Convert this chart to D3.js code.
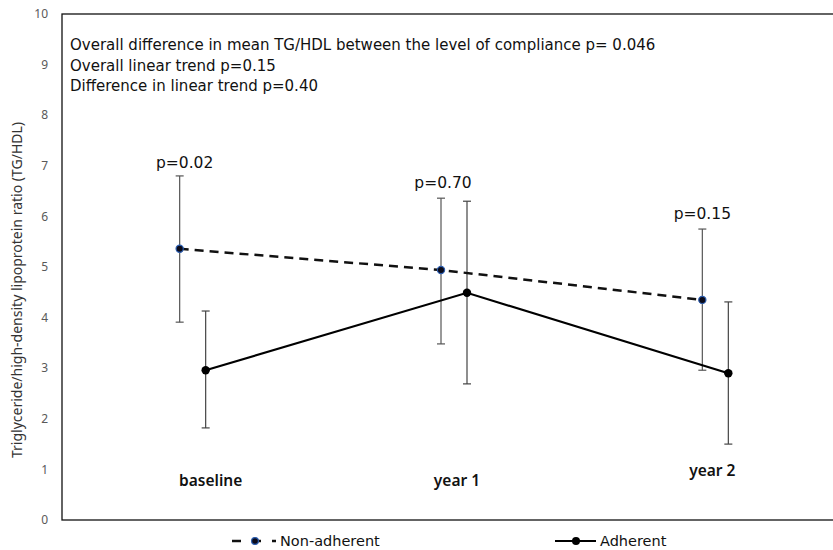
<!DOCTYPE html>
<html>
<head>
<meta charset="utf-8">
<script src="https://cdn.jsdelivr.net/npm/d3@7"></script>
<style>
  body { margin: 0; background: #fff; }
  text { font-family: "Noto Sans", "Open Sans", sans-serif; }
  .dv { font-family: "DejaVu Sans", sans-serif; }
</style>
</head>
<body>
<div id="vis-holder"></div>
<script>
// data
const timepoints = ["baseline", "year 1", "year 2"];
const nonAdherentMean = [5.36, 4.94, 4.35];
const nonAdherentHi = [6.80, 6.36, 5.75];
const nonAdherentLo = [3.91, 3.48, 2.96];
const adherentMean = [2.96, 4.49, 2.90];
const adherentHi = [4.13, 6.30, 4.31];
const adherentLo = [1.82, 2.69, 1.50];
const pLabels = ["p=0.02", "p=0.70", "p=0.15"];
const pLabelY = [6.95, 6.56, 5.95];
const catLabelY = [0.77, 0.77, 0.98];
const notes = [
  "Overall difference in mean TG/HDL between the level of compliance p= 0.046",
  "Overall linear trend p=0.15",
  "Difference in linear trend p=0.40"
];
const yTicks = [0, 1, 2, 3, 4, 5, 6, 7, 8, 9, 10];

const w = 833, h = 550;
const svg = d3.select("#vis-holder").append("svg")
  .attr("width", w).attr("height", h);

let x = d3.scaleBand().domain(timepoints).range([62, 846]);
let y = d3.scaleLinear().domain([0, 10]).range([520, 14]);
const off = 13;
const cx = (d, i) => x(timepoints[i]) + x.bandwidth() / 2;

// plot box
svg.append("rect")
  .attr("x", 62).attr("y", y(10))
  .attr("width", 846 - 62).attr("height", y(0) - y(10))
  .attr("fill", "none").attr("stroke", "#111").attr("stroke-width", 1.3);

// y tick labels
svg.selectAll(".ytick")
  .data(yTicks)
  .enter()
  .append("text")
  .attr("x", 48)
  .attr("y", d => y(d))
  .attr("dy", "0.35em")
  .attr("text-anchor", "end")
  .attr("font-size", 12)
  .attr("fill", "#595959")
  .text(d => d);

// y axis title
svg.append("text")
  .attr("transform", "translate(22," + 290 + ") rotate(-90)")
  .attr("text-anchor", "middle")
  .attr("font-size", 14)
  .attr("fill", "#333")
  .text("Triglyceride/high-density lipoprotein ratio (TG/HDL)");

// notes
svg.selectAll(".note")
  .data(notes)
  .enter()
  .append("text")
  .attr("class", "dv")
  .attr("x", 70)
  .attr("y", (d, i) => 50 + i * 20.5)
  .attr("font-size", 15)
  .attr("fill", "#111")
  .text(d => d);

// error bars
function errBars(lo, hi, dx, col) {
  const g = svg.append("g").attr("stroke", col).attr("stroke-width", 1.2);
  lo.forEach((v, i) => {
    const px = cx(null, i) + dx;
    g.append("line").attr("x1", px).attr("x2", px).attr("y1", y(v)).attr("y2", y(hi[i]));
    g.append("line").attr("x1", px - 4).attr("x2", px + 4).attr("y1", y(v)).attr("y2", y(v));
    g.append("line").attr("x1", px - 4).attr("x2", px + 4).attr("y1", y(hi[i])).attr("y2", y(hi[i]));
  });
}
errBars(nonAdherentLo, nonAdherentHi, -off, "#555");
errBars(adherentLo, adherentHi, off, "#444");

// lines
const lineNon = d3.line().x((d, i) => cx(d, i) - off).y(d => y(d));
const lineAdh = d3.line().x((d, i) => cx(d, i) + off).y(d => y(d));

svg.append("path")
  .attr("d", lineNon(nonAdherentMean))
  .attr("fill", "none").attr("stroke", "#111")
  .attr("stroke-width", 2.5).attr("stroke-dasharray", "9,6");

svg.append("path")
  .attr("d", lineAdh(adherentMean))
  .attr("fill", "none").attr("stroke", "#000")
  .attr("stroke-width", 2.2);

// points
svg.selectAll(".ptNon")
  .data(nonAdherentMean)
  .enter()
  .append("circle")
  .attr("cx", (d, i) => cx(d, i) - off)
  .attr("cy", d => y(d))
  .attr("r", 3.6)
  .attr("fill", "#0a0a1a")
  .attr("stroke", "#2a5db0")
  .attr("stroke-width", 1.2);

svg.selectAll(".ptAdh")
  .data(adherentMean)
  .enter()
  .append("circle")
  .attr("cx", (d, i) => cx(d, i) + off)
  .attr("cy", d => y(d))
  .attr("r", 4.2)
  .attr("fill", "#000");

// p-value labels
svg.selectAll(".plab")
  .data(pLabels)
  .enter()
  .append("text")
  .attr("class", "dv")
  .attr("x", (d, i) => cx(d, i) - off + [5, 2, 0][i])
  .attr("y", (d, i) => y(pLabelY[i]))
  .attr("text-anchor", "middle")
  .attr("font-size", 15.5)
  .attr("fill", "#111")
  .text(d => d);

// category labels
svg.selectAll(".cat")
  .data(timepoints)
  .enter()
  .append("text")
  .attr("x", (d, i) => cx(d, i) + [18, 3, -3][i])
  .attr("y", (d, i) => y(catLabelY[i]))
  .attr("dy", "0.35em")
  .attr("text-anchor", "middle")
  .attr("font-size", 15.5)
  .attr("font-weight", 600)
  .attr("fill", "#111")
  .text(d => d);

// legend
const lg = svg.append("g");
lg.append("line").attr("x1", 232).attr("x2", 276).attr("y1", 541).attr("y2", 541)
  .attr("stroke", "#111").attr("stroke-width", 2.5).attr("stroke-dasharray", "9,11");
lg.append("circle").attr("cx", 255).attr("cy", 541).attr("r", 3.4)
  .attr("fill", "#0a0a1a").attr("stroke", "#2a5db0").attr("stroke-width", 1.2);
lg.append("text").attr("class", "dv").attr("x", 280).attr("y", 541).attr("dy", "0.35em")
  .attr("font-size", 14.5).attr("fill", "#111").text("Non-adherent");
lg.append("line").attr("x1", 555).attr("x2", 596).attr("y1", 541).attr("y2", 541)
  .attr("stroke", "#000").attr("stroke-width", 2.2);
lg.append("circle").attr("cx", 576).attr("cy", 541).attr("r", 4)
  .attr("fill", "#000");
lg.append("text").attr("class", "dv").attr("x", 600).attr("y", 541).attr("dy", "0.35em")
  .attr("font-size", 14.5).attr("fill", "#111").text("Adherent");
</script>
</body>
</html>
